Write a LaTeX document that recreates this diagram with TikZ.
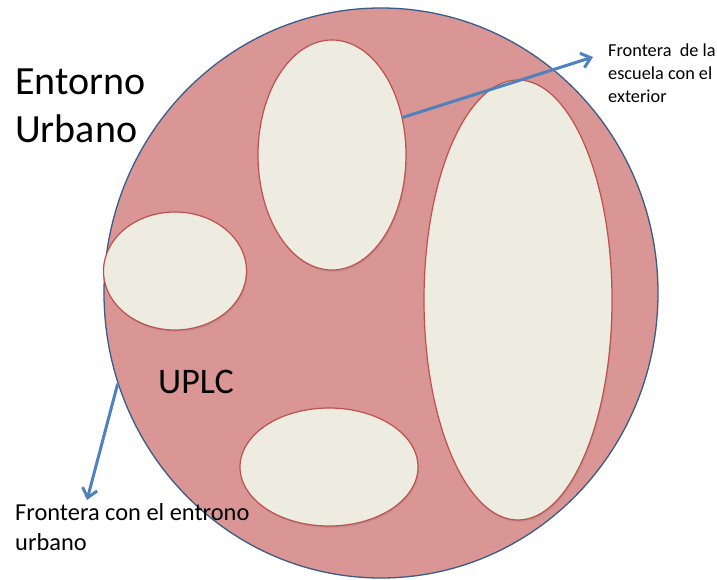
\documentclass[tikz,border=0pt]{standalone}
\usepackage{fontspec}
\setmainfont{Carlito}
\usetikzlibrary{shapes.geometric,arrows.meta,shadows}
\definecolor{rosa}{HTML}{D99694}
\definecolor{borde}{HTML}{385D8A}
\definecolor{crema}{HTML}{EEECE1}
\definecolor{rojo}{HTML}{C0504D}
\definecolor{flecha}{HTML}{4F81BD}
\begin{document}
\begin{tikzpicture}[x=1pt,y=-1pt]
	\tikzstyle{zona}=[ellipse,draw=rojo,line width=1.2pt,fill=crema,inner sep=0pt,
		drop shadow={opacity=0.25,shadow xshift=1pt,shadow yshift=-2pt}]
	\tikzstyle{enlace}=[flecha,line width=3pt,-{Straight Barb[length=9pt,width=15pt]}]
	\tikzstyle{rotulo}=[anchor=base west,inner sep=0pt,align=left]
	\useasboundingbox (0,0) rectangle (717,580);
	% region UPLC
	\node[ellipse,draw=borde,line width=1.3pt,fill=rosa,minimum width=554pt,minimum height=570pt,inner sep=0pt](uplc) at (381,293) {};
	% espacios interiores
	\node[zona,minimum width=148pt,minimum height=230pt](e1) at (332,155) {};
	\node[zona,minimum width=143pt,minimum height=118pt](e2) at (175,271) {};
	\node[zona,minimum width=178pt,minimum height=118pt](e3) at (329,467) {};
	\node[zona,minimum width=188pt,minimum height=440pt](e4) at (518,300) {};
	% textos (base = ultima linea)
	\node[rotulo,font=\fontsize{40}{48}\selectfont](t1) at (15,143) {Entorno\\Urbano};
	\node[rotulo,font=\fontsize{36}{44}\selectfont](t2) at (158,393) {UPLC};
	\node[rotulo,font=\fontsize{18.3}{23}\selectfont](t3) at (608,103) {Frontera\ \ de la\\escuela con el\\exterior};
	\node[rotulo,font=\fontsize{24.4}{30}\selectfont](t4) at (15,550) {Frontera con el entrono\\urbano};
	% flechas
	\coordinate (p1) at (593,57);
	\coordinate (p2) at (87,500);
	\draw[enlace](e1.28) -- (p1);
	\draw[enlace](uplc.199) -- (p2);
\end{tikzpicture}
\end{document}
